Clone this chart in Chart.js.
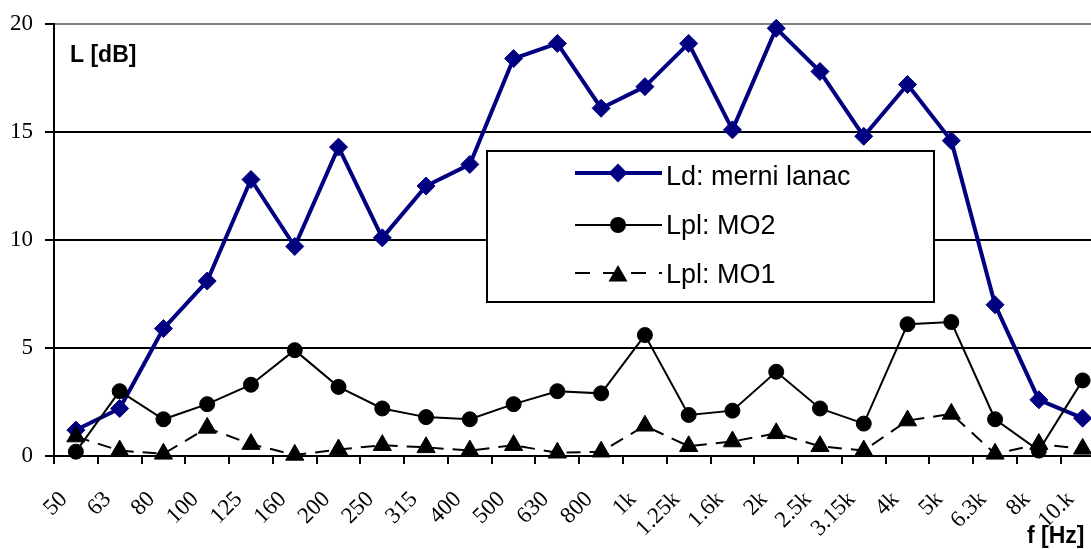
<!DOCTYPE html>
<html><head><meta charset="utf-8">
<script src="https://cdn.jsdelivr.net/npm/chart.js@4"></script>
<style>
html,body{margin:0;padding:0;overflow:hidden;background:#fff;width:1091px;height:549px}
#wrap{position:relative;width:1116px;height:549px}
</style></head>
<body><div id="wrap"><canvas id="c"></canvas></div>
<script>
const categories = ['50','63','80','100','125','160','200','250','315','400','500','630','800','1k','1.25k','1.6k','2k','2.5k','3.15k','4k','5k','6.3k','8k','10.k'];
const ldMerniLanac = [1.2,2.2,5.9,8.1,12.8,9.7,14.3,10.1,12.5,13.5,18.4,19.1,16.1,17.1,19.1,15.1,19.8,17.8,14.8,17.2,14.6,7.0,2.6,1.75];
const lplMO2 = [0.2,3.0,1.7,2.4,3.3,4.9,3.2,2.2,1.8,1.7,2.4,3.0,2.9,5.6,1.9,2.1,3.9,2.2,1.5,6.1,6.2,1.7,0.25,3.5];
const lplMO1 = [0.9,0.25,0.1,1.3,0.55,0.05,0.3,0.5,0.4,0.25,0.5,0.15,0.2,1.4,0.45,0.67,1.05,0.45,0.25,1.64,1.95,0.1,0.55,0.33];
const yTicks = [0,5,10,15,20];
const seriesNames = ['Ld: merni lanac','Lpl: MO2','Lpl: MO1'];
const axisTitleY = 'L [dB]';
const axisTitleX = 'f [Hz]';

function diamond(ctx,x,y,r){ctx.beginPath();ctx.moveTo(x-r,y);ctx.lineTo(x,y-r);ctx.lineTo(x+r,y);ctx.lineTo(x,y+r);ctx.closePath();ctx.fill();}
function circle(ctx,x,y,r){ctx.beginPath();ctx.arc(x,y,r,0,Math.PI*2);ctx.fill();}
function triangle(ctx,x,y,r){ctx.beginPath();ctx.moveTo(x,y-r);ctx.lineTo(x+r*0.866,y+r/2);ctx.lineTo(x-r*0.866,y+r/2);ctx.closePath();ctx.fill();}

const annot = {
  id:'annot',
  afterDatasetsDraw(chart){
    const ctx = chart.ctx;
    ctx.save();
    ctx.fillStyle='#fff';
    ctx.fillRect(487,151,447,151);
    ctx.strokeStyle='#000';ctx.lineWidth=2;
    ctx.strokeRect(487,151,447,151);
    ctx.strokeStyle='#000080';ctx.lineWidth=4;
    ctx.beginPath();ctx.moveTo(575,173);ctx.lineTo(662,173);ctx.stroke();
    ctx.fillStyle='#000080';diamond(ctx,618,173,9.5);
    ctx.strokeStyle='#000';ctx.lineWidth=2;
    ctx.beginPath();ctx.moveTo(575,225);ctx.lineTo(662,225);ctx.stroke();
    ctx.fillStyle='#000';circle(ctx,618,225,8);
    ctx.setLineDash([15,13]);
    ctx.beginPath();ctx.moveTo(575,273);ctx.lineTo(662,273);ctx.stroke();
    ctx.setLineDash([]);
    triangle(ctx,618,276,11);
    ctx.font='27px "Liberation Sans", Arial, sans-serif';
    ctx.textBaseline='alphabetic';ctx.textAlign='left';
    ctx.fillText(seriesNames[0],666,185);
    ctx.fillText(seriesNames[1],666,234);
    ctx.fillText(seriesNames[2],666,283);
    ctx.restore();
  },
  afterDraw(chart){
    const ctx = chart.ctx;
    ctx.save();
    ctx.fillStyle='#000';
    ctx.font='bold 23px "Liberation Sans", Arial, sans-serif';
    ctx.textBaseline='alphabetic';ctx.textAlign='left';
    ctx.fillText(axisTitleY,70,62);
    ctx.fillText(axisTitleX,1027,543);
    ctx.restore();
  }
};

new Chart(document.getElementById('c'), {
  type:'line',
  data:{labels:categories, datasets:[
    {label:seriesNames[0], data:ldMerniLanac, borderColor:'#000080', backgroundColor:'#000080', borderWidth:4, borderJoinStyle:'round',
     pointStyle:'rectRot', pointRadius:9, pointBorderWidth:1, pointBackgroundColor:'#000080', pointBorderColor:'#000080', tension:0, clip:false, order:3},
    {label:seriesNames[1], data:lplMO2, borderColor:'#000', backgroundColor:'#000', borderWidth:2,
     pointStyle:'circle', pointRadius:7.5, pointBorderWidth:1, pointBackgroundColor:'#000', pointBorderColor:'#000', tension:0, clip:false, order:2},
    {label:seriesNames[2], data:lplMO1, borderColor:'#000', backgroundColor:'#000', borderWidth:2, borderDash:[14,9],
     pointStyle:'triangle', pointRadius:10.5, pointBorderWidth:1, pointBackgroundColor:'#000', pointBorderColor:'#000', tension:0, clip:false, order:1}
  ]},
  options:{
    responsive:true, maintainAspectRatio:false, animation:false, devicePixelRatio:1, events:[],
    layout:{padding:{top:24,right:5,left:0,bottom:0}},
    plugins:{legend:{display:false}, tooltip:{enabled:false}},
    scales:{
      x:{offset:true,
         grid:{offset:true, drawOnChartArea:false, drawTicks:true, tickLength:8, color:'#000', lineWidth:2},
         border:{color:'#000', width:2},
         ticks:{autoSkip:false, maxRotation:45, minRotation:45, color:'#000', font:{family:'"Liberation Serif", "Times New Roman", serif', size:23}, padding:22, labelOffset:-12},
         afterFit(s){s.height=93; s.paddingLeft=0; s.paddingRight=0;}},
      y:{min:0,max:20,
         afterBuildTicks(s){s.ticks = yTicks.map(v=>({value:v}));},
         grid:{color:c=>(c.tick&&c.tick.value===20)?'#808080':'#000', lineWidth:2, tickLength:9, tickColor:'#000'},
         border:{color:'#000', width:2},
         ticks:{color:'#000', font:{family:'"Liberation Serif", "Times New Roman", serif', size:23}, padding:12},
         afterFit(s){s.width=54; s.paddingTop=0; s.paddingBottom=0;}}
    }
  },
  plugins:[annot]
});
</script>
</body></html>
